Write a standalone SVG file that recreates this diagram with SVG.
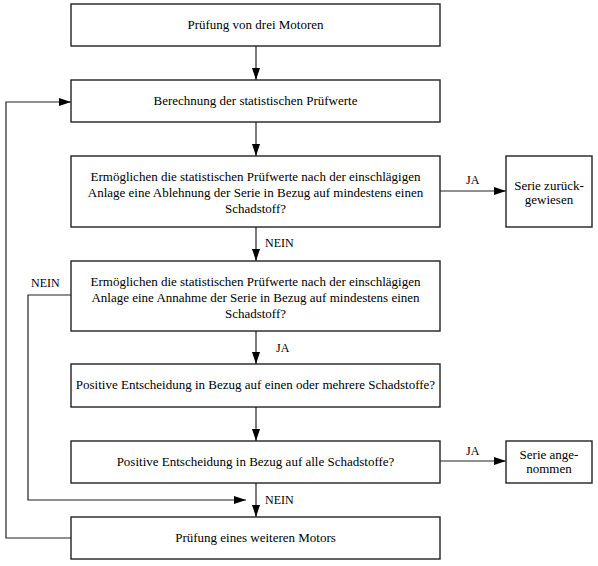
<svg xmlns="http://www.w3.org/2000/svg" width="598" height="566" viewBox="0 0 598 566">
<style>
.box{fill:#fff;stroke:#222;stroke-width:1.4}
text{font-family:"Liberation Serif",serif}
.t{font-size:13px;fill:#000;text-anchor:middle}
.l{font-size:12px;fill:#000}
.c{fill:none;stroke:#222;stroke-width:1.2}
</style>
<defs>
<marker id="ah" markerWidth="12" markerHeight="8" refX="12" refY="4" orient="auto" markerUnits="userSpaceOnUse">
<path d="M0,0 L12,4 L0,8 Z" fill="#000"/>
</marker>
</defs>
<g id="connectors">
<line class="c" x1="256" y1="46" x2="256" y2="80" marker-end="url(#ah)"/>
<line class="c" x1="256" y1="122" x2="256" y2="156" marker-end="url(#ah)"/>
<line class="c" x1="440" y1="191" x2="506" y2="191" marker-end="url(#ah)"/>
<line class="c" x1="256" y1="227" x2="256" y2="261" marker-end="url(#ah)"/>
<line class="c" x1="256" y1="331" x2="256" y2="364" marker-end="url(#ah)"/>
<line class="c" x1="256" y1="407" x2="256" y2="441" marker-end="url(#ah)"/>
<line class="c" x1="440" y1="461" x2="506" y2="461" marker-end="url(#ah)"/>
<line class="c" x1="256" y1="483" x2="256" y2="517" marker-end="url(#ah)"/>
<polyline class="c" points="71,295 28,295 28,500 246,500" marker-end="url(#ah)"/>
<polyline class="c" points="71,538 6,538 6,102 71,102" marker-end="url(#ah)"/>
<text class="l" x="466" y="184">JA</text>
<text class="l" x="265" y="247">NEIN</text>
<text class="l" x="31" y="287">NEIN</text>
<text class="l" x="276" y="352">JA</text>
<text class="l" x="466" y="455">JA</text>
<text class="l" x="265" y="504">NEIN</text>
</g>
<g id="n1"><rect class="box" x="71" y="4" width="369" height="42"/><text class="t" x="255.5" y="29">Prüfung von drei Motoren</text></g>
<g id="n2"><rect class="box" x="71" y="80" width="369" height="42"/><text class="t" x="255.5" y="105">Berechnung der statistischen Prüfwerte</text></g>
<g id="n3"><rect class="box" x="71" y="156" width="369" height="71"/>
<text class="t" x="255.5" y="181">Ermöglichen die statistischen Prüfwerte nach der einschlägigen</text>
<text class="t" x="255.5" y="197">Anlage eine Ablehnung der Serie in Bezug auf mindestens einen</text>
<text class="t" x="255.5" y="213">Schadstoff?</text></g>
<g id="n4"><rect class="box" x="506" y="156" width="86" height="71"/>
<text class="t" x="549" y="190">Serie zurück-</text>
<text class="t" x="549" y="204">gewiesen</text></g>
<g id="n5"><rect class="box" x="71" y="261" width="369" height="70"/>
<text class="t" x="255.5" y="286">Ermöglichen die statistischen Prüfwerte nach der einschlägigen</text>
<text class="t" x="255.5" y="302">Anlage eine Annahme der Serie in Bezug auf mindestens einen</text>
<text class="t" x="255.5" y="318">Schadstoff?</text></g>
<g id="n6"><rect class="box" x="71" y="364" width="369" height="43"/><text class="t" x="255.5" y="389">Positive Entscheidung in Bezug auf einen oder mehrere Schadstoffe?</text></g>
<g id="n7"><rect class="box" x="71" y="441" width="369" height="42"/><text class="t" x="255.5" y="466">Positive Entscheidung in Bezug auf alle Schadstoffe?</text></g>
<g id="n8"><rect class="box" x="506" y="441" width="86" height="42"/>
<text class="t" x="549" y="459">Serie ange-</text>
<text class="t" x="549" y="473">nommen</text></g>
<g id="n9"><rect class="box" x="71" y="517" width="369" height="42"/><text class="t" x="255.5" y="542">Prüfung eines weiteren Motors</text></g>
</svg>
